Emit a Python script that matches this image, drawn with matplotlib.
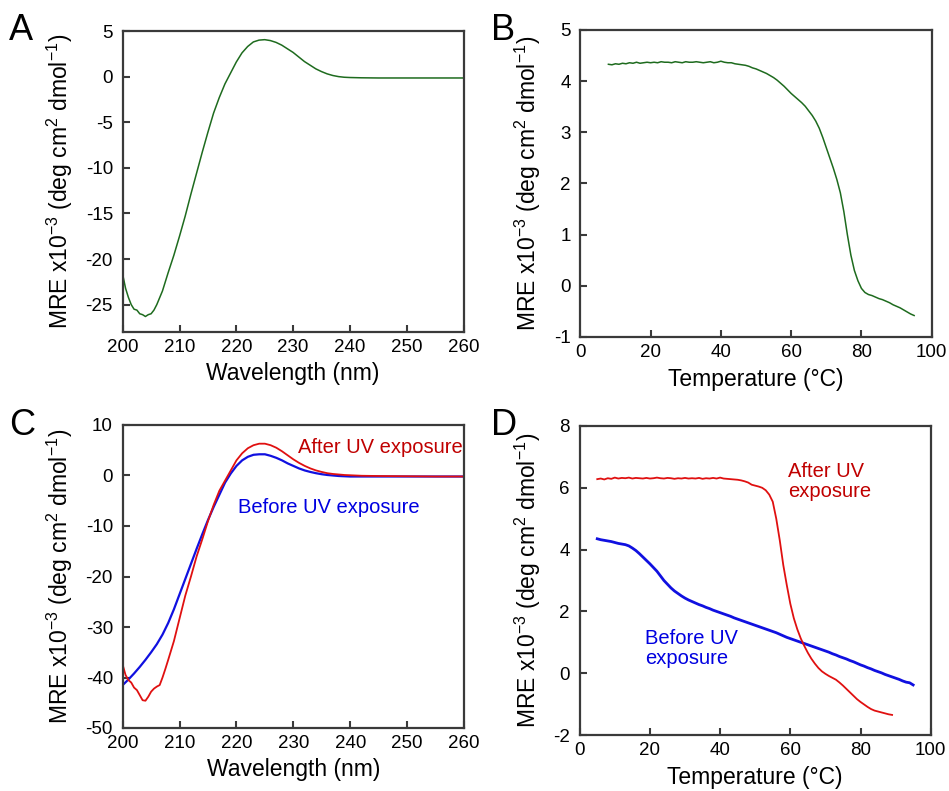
import matplotlib
matplotlib.use("Agg")
import matplotlib.pyplot as plt
import numpy as np

plt.rcParams['font.family'] = ['Liberation Sans', 'DejaVu Sans']
plt.rcParams['mathtext.fontset'] = 'custom'
plt.rcParams['mathtext.rm'] = 'Liberation Sans'
plt.rcParams['mathtext.it'] = 'Liberation Sans:italic'
plt.rcParams['mathtext.bf'] = 'Liberation Sans:bold'
plt.rcParams['axes.unicode_minus'] = False

# ---------------- Data ----------------
# Panel A: CD spectrum (wavelength nm, MRE x1e-3)
wl_a = [200, 200.5, 201, 201.5, 202, 202.5, 203, 203.5, 204, 204.5, 205, 205.5, 206, 207, 208, 209, 210,
        211, 212, 213, 214, 215, 216, 217, 218, 219, 220, 221, 222, 223, 224, 225, 226, 227,
        228, 229, 230, 231, 232, 233, 234, 235, 236, 237, 238, 239, 240, 242, 245, 250, 255, 260]
mre_a = [-21.7, -23.2, -24.2, -25.0, -25.5, -25.6, -26.0, -26.1, -26.3, -26.1, -26.0, -25.6, -25.0,
         -23.5, -21.5, -19.6, -17.5, -15.3, -12.9, -10.6, -8.3, -6.1, -4.0, -2.3, -0.8, 0.4, 1.6,
         2.6, 3.3, 3.8, 4.0, 4.05, 3.95, 3.75, 3.45, 3.05, 2.65, 2.15, 1.65, 1.25, 0.85, 0.55,
         0.3, 0.12, 0.0, -0.07, -0.1, -0.13, -0.15, -0.15, -0.15, -0.15]

# Panel B: thermal melt (temperature °C, MRE x1e-3)
temp_b = list(range(8, 96))
mre_b = [4.33, 4.32, 4.34, 4.33, 4.35, 4.34, 4.36, 4.35, 4.37, 4.35, 4.36, 4.37, 4.36, 4.37, 4.36,
         4.38, 4.37, 4.37, 4.36, 4.38, 4.37, 4.36, 4.38, 4.37, 4.37, 4.38, 4.37, 4.36, 4.37, 4.38,
         4.36, 4.37, 4.39, 4.37, 4.36, 4.36, 4.34, 4.33, 4.32, 4.31, 4.29, 4.26, 4.24, 4.21, 4.18,
         4.15, 4.11, 4.07, 4.02, 3.96, 3.90, 3.83, 3.76, 3.70, 3.64, 3.58, 3.51, 3.42, 3.33, 3.22,
         3.08, 2.90, 2.70, 2.50, 2.30, 2.08, 1.82, 1.45, 1.00, 0.60, 0.30, 0.10, -0.05, -0.13,
         -0.17, -0.19, -0.22, -0.25, -0.27, -0.30, -0.33, -0.37, -0.40, -0.43, -0.47, -0.51,
         -0.55, -0.58]

# Panel C: CD spectra before/after UV exposure
wl_before = [200, 201, 202, 203, 204, 205, 206, 207, 208, 209, 210, 211, 212, 213, 214, 215, 216,
             217, 218, 219, 220, 221, 222, 223, 224, 225, 226, 227, 228, 229, 230, 231, 232, 233,
             234, 235, 236, 237, 238, 239, 240, 245, 250, 255, 260]
mre_before = [-41.5, -40.4, -39.2, -37.9, -36.5, -35.0, -33.4, -31.5, -29.2, -26.5, -23.5, -20.5,
              -17.5, -14.5, -11.6, -8.8, -6.2, -3.8, -1.4, 0.4, 1.9, 3.0, 3.7, 4.1, 4.2, 4.2, 3.9,
              3.5, 3.0, 2.4, 1.9, 1.4, 1.0, 0.7, 0.45, 0.25, 0.1, 0.0, -0.1, -0.15, -0.2, -0.2,
              -0.2, -0.2, -0.2]
wl_after = [200, 200.5, 201, 201.5, 202, 202.5, 203, 203.5, 204, 204.5, 205, 205.5, 206, 206.5, 207,
            207.5, 208, 209, 210, 211, 212, 213, 214, 215, 216, 217, 218, 219, 220, 221, 222, 223,
            224, 225, 226, 227, 228, 229, 230, 231, 232, 233, 234, 235, 236, 237, 238, 239, 240,
            242, 245, 250, 255, 260]
mre_after = [-37.5, -39.5, -40.5, -41.0, -42.0, -42.5, -43.5, -44.5, -44.6, -43.8, -42.8, -42.2,
             -41.8, -41.5, -40.0, -38.3, -36.5, -32.8, -28.3, -23.8, -20.0, -16.0, -12.6, -9.0,
             -5.8, -3.0, -1.0, 1.0, 3.0, 4.4, 5.4, 6.0, 6.3, 6.3, 6.0, 5.5, 4.8, 4.0, 3.2, 2.5,
             1.9, 1.4, 1.0, 0.7, 0.45, 0.3, 0.2, 0.1, 0.05, -0.05, -0.1, -0.15, -0.2, -0.2]

# Panel D: thermal melts before/after UV exposure
temp_before = list(range(5, 96))
mre_t_before = [4.35, 4.32, 4.30, 4.28, 4.26, 4.23, 4.20, 4.18, 4.16, 4.12, 4.05, 3.97, 3.87, 3.76,
                3.65, 3.54, 3.42, 3.30, 3.15, 3.00, 2.88, 2.76, 2.66, 2.58, 2.50, 2.43, 2.37, 2.32,
                2.27, 2.22, 2.18, 2.13, 2.09, 2.04, 2.00, 1.96, 1.92, 1.88, 1.84, 1.79, 1.75, 1.71,
                1.67, 1.63, 1.59, 1.55, 1.51, 1.47, 1.43, 1.39, 1.35, 1.31, 1.26, 1.21, 1.16, 1.12,
                1.08, 1.04, 1.00, 0.96, 0.92, 0.88, 0.84, 0.80, 0.76, 0.72, 0.68, 0.63, 0.59, 0.54,
                0.50, 0.46, 0.41, 0.37, 0.32, 0.27, 0.23, 0.18, 0.14, 0.09, 0.05, 0.01, -0.04,
                -0.08, -0.12, -0.16, -0.20, -0.25, -0.29, -0.31, -0.38]
temp_after = list(range(5, 90))
mre_t_after = [6.28, 6.30, 6.27, 6.31, 6.29, 6.33, 6.30, 6.32, 6.31, 6.33, 6.30, 6.32, 6.31, 6.30,
               6.32, 6.30, 6.31, 6.33, 6.31, 6.30, 6.32, 6.31, 6.29, 6.31, 6.30, 6.32, 6.30, 6.31,
               6.30, 6.32, 6.29, 6.31, 6.30, 6.32, 6.30, 6.33, 6.30, 6.29, 6.28, 6.27, 6.26, 6.24,
               6.21, 6.17, 6.10, 6.07, 6.04, 6.00, 5.92, 5.78, 5.55, 5.00, 4.30, 3.50, 2.85, 2.25,
               1.78, 1.42, 1.12, 0.88, 0.66, 0.47, 0.31, 0.17, 0.06, -0.02, -0.09, -0.15, -0.21,
               -0.30, -0.40, -0.51, -0.62, -0.73, -0.84, -0.93, -1.01, -1.09, -1.16, -1.21, -1.24,
               -1.27, -1.30, -1.33, -1.35]

ylabel_text = 'MRE x10$^{-3}$ (deg cm$^{2}$ dmol$^{-1}$)'
green = '#1e6b1e'
red_line = '#e01010'
blue_line = '#1010e0'
red_text = '#c00000'
blue_text = '#0000e0'
spine_c = '#3a3a3a'

fig = plt.figure(figsize=(9.49, 7.91), dpi=100)
W, H = 949, 791


def make_ax(l, r, t, b):
    return fig.add_axes([l / W, 1 - b / H, (r - l) / W, (b - t) / H])


def style(ax, xlim, ylim, xticks, yticks, xlabel, xl_off, yl_off):
    ax.set_xlim(*xlim)
    ax.set_ylim(*ylim)
    ax.set_xticks(xticks)
    ax.set_yticks(yticks)
    for s in ax.spines.values():
        s.set_color(spine_c)
        s.set_linewidth(1.6)
    ax.tick_params(direction='in', length=5, width=1.5, color=spine_c,
                   labelsize=13.5, top=False, right=False)
    ax.tick_params(axis='x', pad=5)
    ax.tick_params(axis='y', pad=7)
    ax.set_xlabel(xlabel, fontsize=16.5)
    ax.set_ylabel(ylabel_text, fontsize=16.5)
    ax.xaxis.set_label_coords(0.5, xl_off)
    ax.yaxis.set_label_coords(yl_off, 0.5)


# Panel A
axA = make_ax(122.7, 463.5, 31, 332)
axA.plot(wl_a, mre_a, color=green, lw=1.1)
style(axA, (200, 260), (-28, 5), [200, 210, 220, 230, 240, 250, 260],
      [5, 0, -5, -10, -15, -20, -25], 'Wavelength (nm)', -0.1, -0.14)

# Panel B
axB = make_ax(580.3, 931.7, 30, 337)
axB.plot(temp_b, mre_b, color=green, lw=1.1)
style(axB, (0, 100), (-1, 5), [0, 20, 40, 60, 80, 100],
      [-1, 0, 1, 2, 3, 4, 5], 'Temperature (°C)', -0.1, -0.105)

# Panel C
axC = make_ax(122.7, 464, 425, 728)
axC.plot(wl_before, mre_before, color=blue_line, lw=1.6)
axC.plot(wl_after, mre_after, color=red_line, lw=1.3)
style(axC, (200, 260), (-50, 10), [200, 210, 220, 230, 240, 250, 260],
      [10, 0, -10, -20, -30, -40, -50], 'Wavelength (nm)', -0.1, -0.14)
axC.text(230.8, 5.5, 'After UV exposure', color=red_text, fontsize=14.5, ha='left', va='center')
axC.text(220.3, -6.4, 'Before UV exposure', color=blue_text, fontsize=14.5, ha='left', va='center')

# Panel D
axD = make_ax(579.7, 930.7, 426, 735)
axD.plot(temp_before, mre_t_before, color=blue_line, lw=2.0)
axD.plot(temp_after, mre_t_after, color=red_line, lw=1.3)
style(axD, (0, 100), (-2, 8), [0, 20, 40, 60, 80, 100],
      [-2, 0, 2, 4, 6, 8], 'Temperature (°C)', -0.1, -0.105)
axD.text(59.3, 6.2, 'After UV\nexposure', color=red_text, fontsize=14.5, ha='left', va='center',
         linespacing=1.05)
axD.text(18.6, 0.8, 'Before UV\nexposure', color=blue_text, fontsize=14.5, ha='left', va='center',
         linespacing=1.05)

# Panel letters
for letter, x, y in [('A', 9, 40), ('B', 491, 40), ('C', 9, 435), ('D', 491, 435)]:
    fig.text(x / W, 1 - y / H, letter, fontsize=26, ha='left', va='baseline')

fig.savefig('out.png', dpi=100)
